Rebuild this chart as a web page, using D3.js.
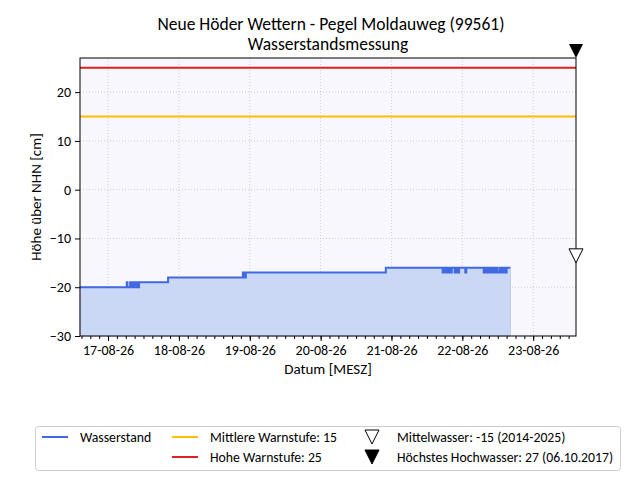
<!DOCTYPE html>
<html>
<head>
<meta charset="utf-8">
<script src="https://cdn.jsdelivr.net/npm/d3@7"></script>
<style>
  body { margin: 0; background: #fff; }
  svg text { font-family: Carlito, Lato, "Open Sans", sans-serif; fill: #000; }
</style>
</head>
<body>
<div id="chart"></div>
<script>
// Messwerte (Zeit in MESZ, als UTC behandelt damit die Zeitzone des Browsers egal ist)
const messZeit = [
  "2026-08-16T14:30", "2026-08-17T06:20", "2026-08-17T06:35", "2026-08-17T07:30", "2026-08-17T07:50",
  "2026-08-17T08:00", "2026-08-17T08:15", "2026-08-17T08:30", "2026-08-17T08:45", "2026-08-17T09:00",
  "2026-08-17T09:15", "2026-08-17T09:30", "2026-08-17T09:45", "2026-08-17T10:00", "2026-08-17T10:15",
  "2026-08-17T10:30", "2026-08-17T20:20", "2026-08-18T21:40", "2026-08-18T21:55", "2026-08-18T22:10",
  "2026-08-18T22:25", "2026-08-18T22:40", "2026-08-20T22:05",
  "2026-08-21T17:20", "2026-08-21T17:35", "2026-08-21T17:50", "2026-08-21T18:05", "2026-08-21T18:20",
  "2026-08-21T18:35", "2026-08-21T18:50", "2026-08-21T19:10", "2026-08-21T19:30", "2026-08-21T19:50",
  "2026-08-21T20:10", "2026-08-21T20:25", "2026-08-21T21:25", "2026-08-21T21:45", "2026-08-21T22:05",
  "2026-08-21T22:25", "2026-08-21T22:40", "2026-08-21T22:55", "2026-08-22T01:00", "2026-08-22T01:20",
  "2026-08-22T07:15", "2026-08-22T07:35", "2026-08-22T07:55", "2026-08-22T08:15", "2026-08-22T08:35",
  "2026-08-22T08:55", "2026-08-22T09:15", "2026-08-22T09:35", "2026-08-22T09:55", "2026-08-22T10:15",
  "2026-08-22T10:35", "2026-08-22T10:55", "2026-08-22T11:15", "2026-08-22T11:35", "2026-08-22T11:55",
  "2026-08-22T12:40", "2026-08-22T13:00", "2026-08-22T13:20", "2026-08-22T14:00", "2026-08-22T14:20",
  "2026-08-22T14:40", "2026-08-22T15:00", "2026-08-22T15:25", "2026-08-22T16:15"
];
const messWert = [
  -20, -19, -20, -19, -20,
  -19, -20, -19, -20, -19,
  -20, -19, -20, -19, -20,
  -19, -18, -17, -18, -17,
  -18, -17, -16,
  -17, -16, -17, -16, -17,
  -16, -17, -16, -17, -16,
  -17, -16, -17, -16, -17,
  -16, -17, -16, -17, -16,
  -17, -16, -17, -16, -17,
  -16, -17, -16, -17, -16,
  -17, -16, -17, -16, -17,
  -16, -17, -16, -17, -16,
  -17, -16, -16, -16
];

const zeitraum = ["2026-08-16T14:30", "2026-08-23T14:30"];
const yTicks = [-30, -20, -10, 0, 10, 20];
const mittlereWarnstufe = 15;
const hoheWarnstufe = 25;
const mittelwasser = -15;
const hoechstesHW = 27;
const legendeText = [
  "Wasserstand", "Mittlere Warnstufe: 15", "Hohe Warnstufe: 25",
  "Mittelwasser: -15 (2014-2025)", "Höchstes Hochwasser: 27 (06.10.2017)"
];

const parse = d3.utcParse("%Y-%m-%dT%H:%M");
const data = messZeit.map((t, i) => ({ t: parse(t), v: messWert[i] }));

const width = 640, height = 480;
const margin = { top: 58, left: 80, right: 64, bottom: 144 };
const iwidth = width - margin.left - margin.right;
const iheight = height - margin.top - margin.bottom;

const svg = d3.select("#chart").append("svg")
  .attr("width", width).attr("height", height);
svg.append("rect").attr("width", width).attr("height", height).attr("fill", "#fff");

const g = svg.append("g").attr("transform", `translate(${margin.left},${margin.top})`);

const x = d3.scaleUtc().domain(zeitraum.map(parse)).range([0, iwidth]);
const y = d3.scaleLinear().domain([-30, hoechstesHW]).range([iheight, 0]);

g.append("rect").attr("width", iwidth).attr("height", iheight).attr("fill", "#f7f7fd");

// Gitter
const tage = x.ticks(d3.utcDay.every(1));
g.append("g").selectAll("line").data(tage).join("line")
  .attr("x1", d => x(d)).attr("x2", d => x(d)).attr("y1", 0).attr("y2", iheight)
  .attr("stroke", "#c8c8c8").attr("stroke-width", 0.8).attr("stroke-dasharray", "1,2");
g.append("g").selectAll("line").data(yTicks).join("line")
  .attr("x1", 0).attr("x2", iwidth).attr("y1", d => y(d)).attr("y2", d => y(d))
  .attr("stroke", "#c8c8c8").attr("stroke-width", 0.8).attr("stroke-dasharray", "1,2");

// Wasserstand
const area = d3.area().x(d => x(d.t)).y0(y(-30)).y1(d => y(d.v)).curve(d3.curveStepAfter);
g.append("path").datum(data).attr("d", area)
  .attr("fill", "#cad8f6").attr("stroke", "#b9cbf3").attr("stroke-width", 1);
const line = d3.line().x(d => x(d.t)).y(d => y(d.v)).curve(d3.curveStepAfter);
g.append("path").datum(data).attr("d", line)
  .attr("fill", "none").attr("stroke", "#4169e1").attr("stroke-width", 2);

// Warnstufen
g.append("line").attr("x1", 0).attr("x2", iwidth)
  .attr("y1", y(mittlereWarnstufe)).attr("y2", y(mittlereWarnstufe))
  .attr("stroke", "#ffbf00").attr("stroke-width", 2);
g.append("line").attr("x1", 0).attr("x2", iwidth)
  .attr("y1", y(hoheWarnstufe)).attr("y2", y(hoheWarnstufe))
  .attr("stroke", "#dd2222").attr("stroke-width", 2);

// Achsen
const xAxis = g.append("g").attr("transform", `translate(0,${iheight})`)
  .call(d3.axisBottom(x).ticks(d3.utcDay.every(1)).tickFormat(d3.utcFormat("%d-%m-%y")).tickSize(5).tickPadding(4));
g.append("g").attr("transform", `translate(0,${iheight})`)
  .call(d3.axisBottom(x).ticks(d3.utcHour.every(3)).tickFormat("").tickSize(3))
  .call(a => a.select(".domain").remove());
const yAxis = g.append("g")
  .call(d3.axisLeft(y).tickValues(yTicks).tickSize(5).tickPadding(4));
[xAxis, yAxis].forEach(a => {
  a.selectAll("text").attr("font-size", 14).attr("fill", "#000");
  a.selectAll("line").attr("stroke", "#000");
  a.select(".domain").remove();
});
g.append("rect").attr("width", iwidth).attr("height", iheight)
  .attr("fill", "none").attr("stroke", "#000").attr("stroke-width", 1);

// Marker am rechten Rand
const tri = (cx, tip) => `M${cx},${tip} L${cx - 7},${tip - 14} L${cx + 7},${tip - 14} Z`;
svg.append("path").attr("d", tri(margin.left + iwidth, margin.top + y(mittelwasser)))
  .attr("fill", "#fff").attr("stroke", "#000").attr("stroke-width", 1);
svg.append("path").attr("d", tri(margin.left + iwidth, margin.top + y(hoechstesHW)))
  .attr("fill", "#000");

// Beschriftung
svg.append("text").attr("x", 331).attr("y", 30).attr("text-anchor", "middle")
  .attr("font-size", 17.5).text("Neue Höder Wettern - Pegel Moldauweg (99561)");
svg.append("text").attr("x", 328).attr("y", 50).attr("text-anchor", "middle")
  .attr("font-size", 17.5).text("Wasserstandsmessung");
svg.append("text").attr("x", margin.left + iwidth / 2).attr("y", 374).attr("text-anchor", "middle")
  .attr("font-size", 15).text("Datum [MESZ]");
svg.append("text").attr("transform", `translate(41,${margin.top + iheight / 2}) rotate(-90)`)
  .attr("text-anchor", "middle").attr("font-size", 15).text("Höhe über NHN [cm]");

// Legende
const leg = svg.append("g");
leg.append("rect").attr("x", 35.5).attr("y", 426.5).attr("width", 585).attr("height", 44).attr("rx", 3)
  .attr("fill", "#fff").attr("stroke", "#ccc");
const legItems = [
  { typ: "line", farbe: "#4169e1", lx: 42, tx: 80, ty: 437 },
  { typ: "line", farbe: "#ffbf00", lx: 172, tx: 210, ty: 437 },
  { typ: "line", farbe: "#dd2222", lx: 172, tx: 210, ty: 457 },
  { typ: "hohl", lx: 372, tx: 397, ty: 437 },
  { typ: "voll", lx: 372, tx: 397, ty: 457 }
];
legItems.forEach((d, i) => {
  if (d.typ === "line") {
    leg.append("line").attr("x1", d.lx).attr("x2", d.lx + 26).attr("y1", d.ty).attr("y2", d.ty)
      .attr("stroke", d.farbe).attr("stroke-width", 2);
  } else {
    leg.append("path").attr("d", tri(d.lx, d.ty + 7))
      .attr("fill", d.typ === "voll" ? "#000" : "#fff").attr("stroke", "#000").attr("stroke-width", 1);
  }
  leg.append("text").attr("x", d.tx).attr("y", d.ty + 5).attr("font-size", 13.75).text(legendeText[i]);
});
</script>
</body>
</html>
